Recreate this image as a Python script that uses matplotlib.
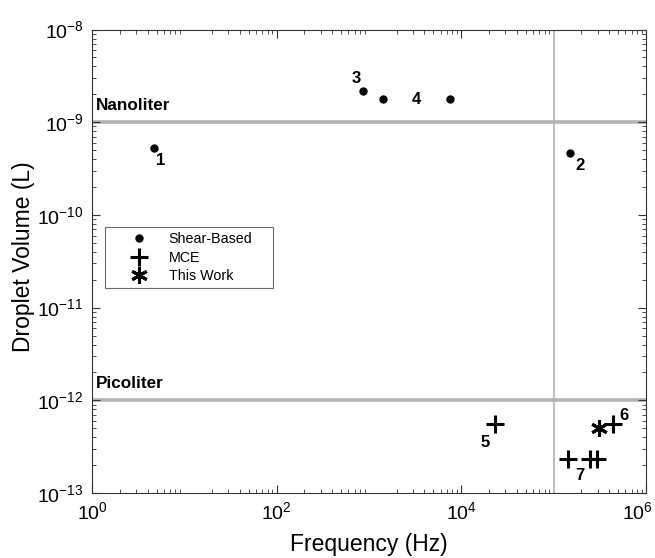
import numpy as np
import matplotlib.pyplot as plt
from matplotlib import transforms

plt.rcParams['font.family'] = ['Liberation Sans', 'DejaVu Sans']
plt.rcParams['axes.unicode_minus'] = False

# shear-based droplet generators (freq Hz, volume L)
shear_freq = [4.7, 1.5e5, 860, 1420, 7600]
shear_vol = [5.3e-10, 4.7e-10, 2.2e-9, 1.78e-9, 1.78e-9]

# MCE devices
mce_freq = [2.3e4, 4.4e5, 1.44e5, 2.5e5, 2.95e5]
mce_vol = [5.5e-13, 5.5e-13, 2.3e-13, 2.3e-13, 2.3e-13]

# this work
work_freq = [3.1e5]
work_vol = [5.0e-13]

# reference labels: (text, x, y)
ref_labels = [("1", 5.6, 3.9e-10), ("2", 1.95e5, 3.4e-10), ("3", 730, 3.0e-9),
              ("4", 3300, 1.78e-9), ("5", 1.8e4, 3.5e-13), ("6", 5.8e5, 6.8e-13),
              ("7", 1.95e5, 1.55e-13)]

fig = plt.figure(figsize=(6.55, 5.58), dpi=100)
ax = fig.add_axes([0.1405, 0.1165, 0.8455, 0.8305])

ax.set_xscale('log')
ax.set_yscale('log')
ax.set_xlim(1, 1e6)
ax.set_ylim(1e-13, 1e-8)

ax.axhline(1e-9, color='#b3b3b3', lw=2.6, zorder=1)
ax.axhline(1e-12, color='#b3b3b3', lw=2.6, zorder=1)
ax.axvline(1e5, color='#b3b3b3', lw=1.2, zorder=1)

ax.plot(shear_freq, shear_vol, 'o', color='k', ms=5, ls='none', label='Shear-Based')
ax.plot(mce_freq, mce_vol, '+', color='k', ms=13, mew=2.2, ls='none', label='MCE')
ax.plot(work_freq, work_vol, marker=(6, 2, 0), color='k', ms=12, mew=2.2, ls='none',
        label='This Work')

for txt, x, y in ref_labels:
    ax.text(x, y, txt, fontsize=12, fontweight='bold', ha='center', va='center')

ax.text(1.1, 1.25e-9, 'Nanoliter', fontsize=12.3, fontweight='bold', ha='left', va='bottom')
ax.text(1.1, 1.25e-12, 'Picoliter', fontsize=12.3, fontweight='bold', ha='left', va='bottom')

ax.set_xlabel('Frequency (Hz)', fontsize=16.5, va='top')
ax.set_ylabel('Droplet Volume (L)', fontsize=16.5)
ax.xaxis.set_label_coords(0.5, -0.086)
ax.yaxis.set_label_coords(-0.103, 0.509)

for s in ax.spines.values():
    s.set_color('#333333')
    s.set_linewidth(0.8)

ax.tick_params(which='both', direction='in', top=True, right=True, labelsize=14,
               color='#333333')
ax.tick_params(which='major', length=6)
ax.tick_params(which='minor', length=3)
ax.tick_params(axis='y', pad=6)
ax.tick_params(axis='x', pad=6)
ax.set_xticks([1, 1e2, 1e4, 1e6])
ax.set_yticks([1e-13, 1e-12, 1e-11, 1e-10, 1e-9, 1e-8])

# the last x label sits a bit left of its tick, as in the original
last = ax.get_xticklabels()[-1]
last.set_transform(last.get_transform() +
                   transforms.ScaledTranslation(-0.08, 0, fig.dpi_scale_trans))

leg = ax.legend(loc='upper left', bbox_to_anchor=(0.0235, 0.474, 0.3034, 0.1),
                mode='expand', fontsize=10.3, frameon=True, fancybox=False,
                edgecolor='#444444', handlelength=4.0, handletextpad=0.1,
                borderpad=0.35, labelspacing=0.33, borderaxespad=0)
leg.get_frame().set_linewidth(0.8)

fig.savefig('out.png', dpi=100)
